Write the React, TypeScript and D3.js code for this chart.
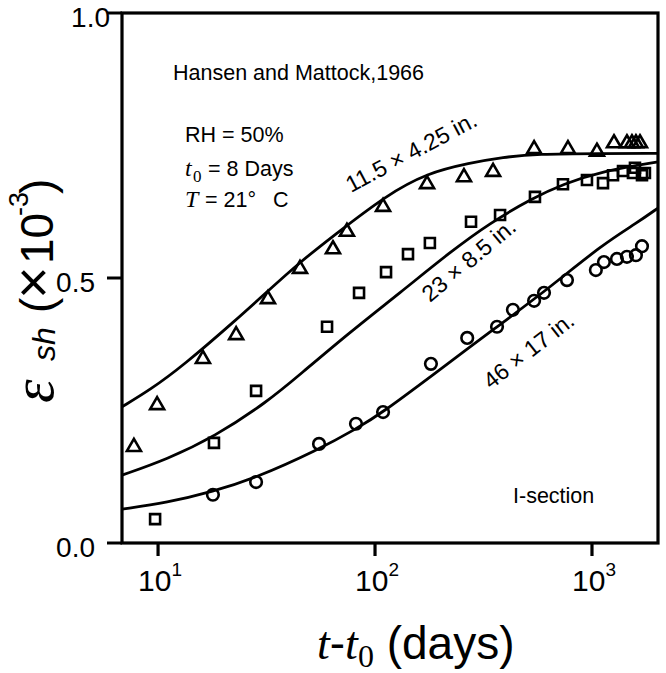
import React from 'react';
import * as d3 from 'd3';

const W = 666;
const H = 673;
const PLOT = { left: 122, right: 658, top: 13, bottom: 543 };

const xDomain: [number, number] = [6.82, 2015];
const yDomain: [number, number] = [0, 1];
const xTicks = [10, 100, 1000];
const xTickExps = ['1', '2', '3'];
const yTicks = [0, 0.5, 1.0];
const yTickLabels = ['0.0', '0.5', '1.0'];

// 11.5 x 4.25 in. (triangles)
const triT = [7.74, 9.9, 16.1, 22.9, 32.1, 45.1, 64.0, 74.2, 108.9, 173.7, 257, 350, 541, 775, 1054, 1263, 1449, 1528, 1594, 1664];
const triV = [0.185, 0.264, 0.351, 0.396, 0.464, 0.521, 0.558, 0.591, 0.638, 0.681, 0.694, 0.704, 0.747, 0.747, 0.742, 0.758, 0.758, 0.758, 0.758, 0.758];

// 23 x 8.5 in. (squares)
const sqT = [9.69, 18.1, 28.3, 60.1, 84.4, 112.4, 141.9, 179, 277, 377, 546, 735, 948, 1124, 1250, 1390, 1545, 1578, 1700, 1754];
const sqV = [0.045, 0.189, 0.287, 0.408, 0.472, 0.511, 0.545, 0.566, 0.606, 0.619, 0.653, 0.677, 0.685, 0.679, 0.694, 0.702, 0.698, 0.708, 0.694, 0.698];

// 46 x 17 in. (circles)
const ciT = [17.9, 28.3, 55.2, 81.7, 108.9, 181, 266, 365, 432, 541, 601, 767, 1042, 1135, 1303, 1449, 1594, 1700];
const ciV = [0.091, 0.115, 0.187, 0.225, 0.247, 0.338, 0.387, 0.408, 0.440, 0.457, 0.472, 0.496, 0.515, 0.530, 0.536, 0.540, 0.543, 0.560];

// model curves
const c1T = [6.82, 9.19, 13.0, 22.9, 31.8, 45.1, 64.0, 113.5, 174, 273, 389, 556, 1088, 2015];
const c1V = [0.257, 0.289, 0.334, 0.421, 0.474, 0.530, 0.579, 0.657, 0.698, 0.717, 0.728, 0.734, 0.735, 0.735];

const c2T = [6.82, 11.0, 18.1, 31.8, 45.1, 76.7, 130.3, 222, 339, 535, 735, 1124, 2015];
const c2V = [0.128, 0.158, 0.200, 0.266, 0.318, 0.398, 0.472, 0.549, 0.604, 0.651, 0.677, 0.702, 0.719];

const c3T = [6.82, 11.0, 17.9, 28.3, 54.1, 82.6, 108.9, 179, 365, 621, 1124, 1612, 2015];
const c3V = [0.064, 0.076, 0.097, 0.123, 0.175, 0.216, 0.247, 0.313, 0.408, 0.478, 0.564, 0.604, 0.632];

const SANS = '"Liberation Sans", Arial, Helvetica, sans-serif';
const SERIF = '"Liberation Serif", "Times New Roman", serif';

const triSymbol = {
  draw(ctx: any, size: number) {
    const w = Math.sqrt(size);
    const h = w * 0.86;
    ctx.moveTo(0, -h / 2);
    ctx.lineTo(w / 2, h / 2);
    ctx.lineTo(-w / 2, h / 2);
    ctx.closePath();
  },
};

export default function App() {
  const x = d3.scaleLog().domain(xDomain).range([PLOT.left, PLOT.right]);
  const y = d3.scaleLinear().domain(yDomain).range([PLOT.bottom, PLOT.top]);

  const makePath = (ts: number[], vs: number[]) =>
    d3
      .line<[number, number]>()
      .x((d) => x(d[0]))
      .y((d) => y(d[1]))
      .curve(d3.curveBasis)(ts.map((t, i) => [t, vs[i]] as [number, number])) || '';

  const triPath = d3.symbol().type(triSymbol as any).size(196)() || '';
  const sqPath = d3.symbol().type(d3.symbolSquare).size(100)() || '';

  const curves = [makePath(c1T, c1V), makePath(c2T, c2V), makePath(c3T, c3V)];

  return (
    <svg
      width={W}
      height={H}
      viewBox={`0 0 ${W} ${H}`}
      style={{ position: 'absolute', left: 0, top: 0, background: '#fff' }}
    >
      <rect x={0} y={0} width={W} height={H} fill="#fff" />

      {/* curves */}
      {curves.map((d, i) => (
        <path key={i} d={d} fill="none" stroke="#000" strokeWidth={2.8} />
      ))}

      {/* markers */}
      {triT.map((t, i) => (
        <path
          key={'t' + i}
          d={triPath}
          transform={`translate(${x(t)},${y(triV[i])})`}
          fill="none"
          stroke="#000"
          strokeWidth={2.6}
        />
      ))}
      {sqT.map((t, i) => (
        <path
          key={'s' + i}
          d={sqPath}
          transform={`translate(${x(t)},${y(sqV[i])})`}
          fill="none"
          stroke="#000"
          strokeWidth={2.6}
        />
      ))}
      {ciT.map((t, i) => (
        <circle
          key={'c' + i}
          cx={x(t)}
          cy={y(ciV[i])}
          r={5.8}
          fill="none"
          stroke="#000"
          strokeWidth={2.6}
        />
      ))}

      {/* frame */}
      <rect
        x={PLOT.left}
        y={PLOT.top}
        width={PLOT.right - PLOT.left}
        height={PLOT.bottom - PLOT.top}
        fill="none"
        stroke="#000"
        strokeWidth={3.2}
      />

      {/* y ticks */}
      {yTicks.map((v, i) => (
        <g key={'yt' + i}>
          <line x1={PLOT.left - 15} x2={PLOT.left} y1={y(v)} y2={y(v)} stroke="#000" strokeWidth={3} />
          <text
            x={95 + (v === 1 ? 15 : 0)}
            y={y(v) + 14}
            textAnchor="end"
            fontFamily={SANS}
            fontSize={28}
            fill="#000"
          >
            {yTickLabels[i]}
          </text>
        </g>
      ))}

      {/* x ticks */}
      {xTicks.map((t, i) => (
        <g key={'xt' + i}>
          <line x1={x(t)} x2={x(t)} y1={PLOT.bottom} y2={PLOT.bottom + 13} stroke="#000" strokeWidth={3.2} />
          <text x={x(t) + 2} y={591} textAnchor="middle" fontFamily={SANS} fontSize={30} fill="#000">
            10
            <tspan fontSize={19} dy={-15}>
              {xTickExps[i]}
            </tspan>
          </text>
        </g>
      ))}

      {/* x title */}
      <text x={317} y={659} fontSize={46} fill="#000" style={{ whiteSpace: 'pre' }}>
        <tspan fontFamily={SERIF} fontStyle="italic">t</tspan>
        <tspan fontFamily={SANS}>-</tspan>
        <tspan fontFamily={SERIF} fontStyle="italic">t</tspan>
        <tspan fontFamily={SERIF} fontSize={32} dy={8}>0</tspan>
        <tspan fontFamily={SANS} dy={-8}>{' (days)'}</tspan>
      </text>

      {/* y title */}
      <g transform="translate(53,403) rotate(-90)">
        <text x={0} y={0} fontFamily={SERIF} fontStyle="italic" fontSize={60} fill="#000">
          ε
        </text>
        <text x={42} y={2} fontFamily={SANS} fontStyle="italic" fontSize={32} fill="#000">
          sh
        </text>
        <text x={90} y={0} fontFamily={SANS} fontSize={46} fill="#000">
          (
        </text>
        <text x={104} y={-1} fontFamily={SANS} fontSize={56} fill="#000">
          ×
        </text>
        <text x={139} y={0} fontFamily={SANS} fontSize={46} fill="#000">
          10
        </text>
        <text x={187} y={-25} fontFamily={SANS} fontSize={27} fill="#000">
          -3
        </text>
        <text x={209} y={0} fontFamily={SANS} fontSize={46} fill="#000">
          )
        </text>
      </g>

      {/* annotations */}
      <text x={173} y={80} fontFamily={SANS} fontSize={21.5} fill="#000">
        Hansen and Mattock,1966
      </text>
      <text x={185} y={142} fontFamily={SANS} fontSize={21.5} fill="#000">
        RH = 50%
      </text>
      <text x={185} y={176} fontFamily={SERIF} fontStyle="italic" fontSize={24} fill="#000">
        t
      </text>
      <text x={193} y={182} fontFamily={SERIF} fontSize={17} fill="#000">
        0
      </text>
      <text x={208} y={176} fontFamily={SANS} fontSize={21.5} fill="#000">
        = 8 Days
      </text>
      <text x={185} y={207} fontFamily={SERIF} fontStyle="italic" fontSize={24} fill="#000">
        T
      </text>
      <text x={205} y={207} fontFamily={SANS} fontSize={21.5} fill="#000">
        = 21°
      </text>
      <text x={273} y={207} fontFamily={SANS} fontSize={21.5} fill="#000">
        C
      </text>

      <text x={513} y={503} fontFamily={SANS} fontSize={21.5} fill="#000">
        I-section
      </text>

      {/* curve labels */}
      <text transform="translate(351,193) rotate(-28)" fontFamily={SANS} fontSize={23} fill="#000">
        11.5 × 4.25 in.
      </text>
      <text transform="translate(430,303) rotate(-40)" fontFamily={SANS} fontSize={23} fill="#000">
        23 × 8.5 in.
      </text>
      <text transform="translate(491,390) rotate(-38)" fontFamily={SANS} fontSize={23} fill="#000">
        46 × 17 in.
      </text>
    </svg>
  );
}
